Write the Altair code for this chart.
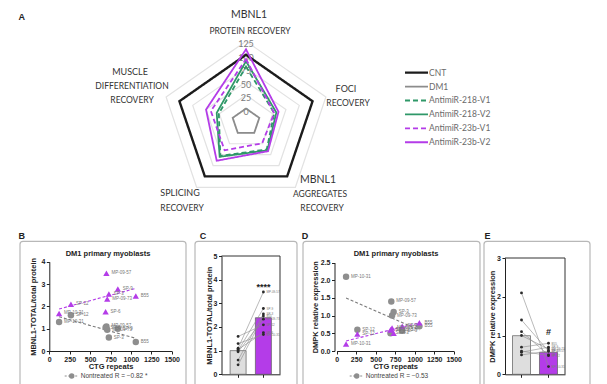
import altair as alt
import pandas as pd

W, H = 584, 376

# ---------------- Panel A: radar chart data ----------------
radar_axes = ["MBNL1 protein recovery", "Foci recovery", "MBNL1 aggregates recovery",
              "Splicing recovery", "Muscle differentiation recovery"]
series = ["CNT", "DM1", "AntimiR-218-V1", "AntimiR-218-V2", "AntimiR-23b-V1", "AntimiR-23b-V2"]
cnt = [100, 100, 100, 100, 100]
dm1 = [0, 0, 0, 0, 0]
antimir_218_v1 = [78, 28, 38, 53, 26]
antimir_218_v2 = [88, 32, 40, 55, 30]
antimir_23b_v1 = [92, 28, 24, 40, 41]
antimir_23b_v2 = [110, 36, 42, 64, 50]
radar_rings = [0, 25, 50, 75, 100, 125]
radar_min = -25

# ---------------- Panels B-E data ----------------
patients = ["MP-10-31", "SP-12", "MP-09-57", "SP-6", "MP-09-73", "SP-9", "SP-3", "B55"]
ctg_repeats = [120, 265, 700, 690, 710, 840, 730, 1060]
mbnl1_nontreated = [1.30, 1.60, 1.10, 1.05, 0.95, 1.00, 0.60, 0.40]
mbnl1_treated = [1.68, 2.09, 3.48, 1.76, 2.33, 2.78, 2.55, 2.46]
dmpk_nontreated = [2.10, 0.60, 1.40, 0.50, 1.00, 0.57, 1.10, 0.70]
dmpk_treated = [0.20, 0.48, 0.60, 0.60, 0.65, 0.70, 0.50, 0.80]
conditions = ["Nontreated", "Treated"]
ctg_ticks = [0, 250, 500, 750, 1000, 1250, 1500]

# ---------------- styles ----------------
series_colors = ["#1c1c1c", "#8c8c8c", "#2f9868", "#2f9868", "#b43ce8", "#b43ce8"]
series_dash = [[1, 0], [1, 0], [5, 3], [1, 0], [5, 3], [1, 0]]
MAG = "#b43ce8"
GREY_PT = "#8e8e8e"


def note(txt, x, y, size, color="#333333", font="Lato", weight="normal", align="center"):
    return alt.Chart(pd.DataFrame({"t": [txt]})).mark_text(
        font=font, fontSize=size, color=color, fontWeight=weight, align=align, baseline="middle"
    ).encode(x=alt.value(x), y=alt.value(y), text="t:N")


def frame(x0, x1, y0):
    return alt.Chart(pd.DataFrame({"t": [0]})).mark_rect(
        fillOpacity=0, stroke="#b8b8b8", strokeWidth=1.2, cornerRadius=3
    ).encode(x=alt.value(x0), x2=alt.value(x1), y=alt.value(y0), y2=alt.value(H + 40))


# ---------------- radar ----------------
radar_rows = []
for s, vals in zip(series, [cnt, dm1, antimir_218_v1, antimir_218_v2, antimir_23b_v1, antimir_23b_v2]):
    for i, (a, v) in enumerate(zip(radar_axes, vals)):
        radar_rows.append({"series": s, "axis": a, "idx": i, "value": v})
radar_df = pd.DataFrame(radar_rows)
ring_df = pd.DataFrame([{"ring": r, "idx": i, "value": r} for r in radar_rings for i in range(5)])
tick_df = pd.DataFrame({"value": radar_rings, "idx": [0] * len(radar_rings),
                        "label": [str(r) for r in radar_rings]})


def polar(ch):
    return ch.transform_calculate(r=f"datum.value - ({radar_min})").transform_calculate(
        px="datum.r * sin(datum.idx * 2 * PI / 5)",
        py="datum.r * cos(datum.idx * 2 * PI / 5)")


RX = alt.X("px:Q", scale=alt.Scale(domain=[-150, 150], range=[154, 322], nice=False, zero=False), axis=None)
RY = alt.Y("py:Q", scale=alt.Scale(domain=[-150, 150], range=[194.7, 33.3], nice=False, zero=False), axis=None)
COLOR = alt.Color("series:N", scale=alt.Scale(domain=series, range=series_colors), legend=None)
DASH = alt.StrokeDash("series:N", scale=alt.Scale(domain=series, range=series_dash), legend=None)
SW = alt.when(alt.datum.series == "CNT").then(alt.value(2.4)).otherwise(alt.value(1.8))

grid = polar(alt.Chart(ring_df)).mark_line(interpolate="linear-closed", color="#e2e2e2", strokeWidth=1.2).encode(
    x=RX, y=RY, detail="ring:N", order="idx:Q")
rticks = polar(alt.Chart(tick_df)).mark_text(font="Lato", fontSize=9, color="#7a7a7a", dy=3).encode(
    x=RX, y=RY, text="label:N")
rlines = polar(alt.Chart(radar_df)).mark_line(interpolate="linear-closed").encode(
    x=RX, y=RY, detail="series:N", order="idx:Q", color=COLOR, strokeDash=DASH, strokeWidth=SW)
radar = alt.layer(grid, rticks, rlines)

leg_df = pd.DataFrame({"series": series})
LY = alt.Y("series:N", scale=alt.Scale(domain=series, range=[57.7, 141.2], padding=0), axis=None)
leg_rule = alt.Chart(leg_df).mark_rule().encode(
    x=alt.value(397), x2=alt.value(420), y=LY, color=COLOR, strokeDash=DASH, strokeWidth=SW)
leg_text = alt.Chart(leg_df).mark_text(align="left", font="Lato", fontSize=8.5, color="#6b6b6b").encode(
    x=alt.value(421), y=LY, text="series:N")
legend = alt.layer(leg_rule, leg_text)

radar_labels = [
    note("MBNL1", 241, 7, 10.5), note("PROTEIN RECOVERY", 242, 23, 8.5),
    note("MUSCLE", 122, 64, 9), note("DIFFERENTIATION", 124, 78, 8.5), note("RECOVERY", 124, 92, 8.5),
    note("FOCI", 338, 81, 9), note("RECOVERY", 340, 95, 8.5),
    note("MBNL1", 310, 172, 10.5), note("AGGREGATES", 312, 186, 8.5), note("RECOVERY", 314, 200, 8.5),
    note("SPLICING", 172, 185, 9), note("RECOVERY", 174, 200, 8.5),
]


# ---------------- scatter panels ----------------
def scatter_panel(nt_vals, tr_vals, y_dom, y_ticks, y_fmt, x_rng, y_rng, y_axis_x, y_title, title_x):
    df = pd.DataFrame({"patient": patients, "ctg": ctg_repeats, "nt": nt_vals, "tr": tr_vals})
    xe = alt.X("ctg:Q", scale=alt.Scale(domain=[0, 1500], range=x_rng, nice=False, zero=False),
               axis=alt.Axis(orient="bottom", offset=y_rng[0] - H, values=ctg_ticks, format="d",
                             title="CTG repeats", titleY=15, titleBaseline="middle",
                             labelFlush=False, labelOverlap=False))

    def ye(f):
        return alt.Y(f"{f}:Q", scale=alt.Scale(domain=y_dom, range=y_rng, nice=False, zero=False),
                     axis=alt.Axis(orient="left", offset=-y_axis_x, values=y_ticks, format=y_fmt, title=y_title,
                                   titleX=title_x, titleBaseline="middle", labelOverlap=False))

    base = alt.Chart(df)
    reg_nt = base.transform_regression("ctg", "nt").mark_line(color="#7a7a7a", strokeDash=[3, 2], strokeWidth=1.1).encode(
        x=xe, y=ye("nt"))
    reg_tr = base.transform_regression("ctg", "tr").mark_line(color=MAG, strokeDash=[3, 2], strokeWidth=1.1).encode(
        x=xe, y=ye("tr"))
    p_nt = base.mark_point(shape="circle", filled=True, size=42, color=GREY_PT, opacity=1).encode(x=xe, y=ye("nt"))
    p_tr = base.mark_point(shape="triangle-up", filled=True, size=40, color=MAG, opacity=1).encode(x=xe, y=ye("tr"))
    l_nt = base.mark_text(align="left", dx=5, fontSize=4.5, color="#777777", font="Liberation Sans").encode(
        x=xe, y=ye("nt"), text="patient:N")
    l_tr = base.mark_text(align="left", dx=5, fontSize=4.5, color="#777777", font="Liberation Sans").encode(
        x=xe, y=ye("tr"), text="patient:N")
    return alt.layer(reg_nt, reg_tr, p_nt, p_tr, l_nt, l_tr)


# ---------------- bar panels ----------------
def bar_panel(nt_vals, tr_vals, y_dom, y_ticks, x_rng, pad_in, pad_out, y_rng, y_title, title_x,
              sig_text, sig_y, box_right):
    rows = []
    for p, a, b in zip(patients, nt_vals, tr_vals):
        rows.append({"patient": p, "cond": conditions[0], "value": a})
        rows.append({"patient": p, "cond": conditions[1], "value": b})
    df = pd.DataFrame(rows)
    xe = alt.X("cond:N", sort=conditions,
               scale=alt.Scale(domain=conditions, range=x_rng, paddingInner=pad_in, paddingOuter=pad_out),
               axis=alt.Axis(orient="bottom", offset=y_rng[0] - H, labels=False, title=None))

    def ye(f):
        return alt.Y(f, scale=alt.Scale(domain=y_dom, range=y_rng, nice=False),
                     axis=alt.Axis(orient="left", offset=-x_rng[0], values=y_ticks, title=y_title,
                                   titleX=title_x, titleBaseline="middle", labelOverlap=False))

    base = alt.Chart(df)
    bars = base.mark_bar(stroke="#5a5a5a", strokeWidth=0.7).encode(
        x=xe, y=ye("mean(value):Q"),
        color=alt.when(alt.datum.cond == "Treated").then(alt.value(MAG)).otherwise(alt.value("#dedede")))
    links = base.mark_line(color="#8c8c8c", strokeWidth=0.6).encode(x=xe, y=ye("value:Q"), detail="patient:N")
    dots = base.mark_circle(size=8, color="#2a2a2a", opacity=1).encode(x=xe, y=ye("value:Q"))
    labs = base.transform_filter(alt.datum.cond == "Treated").mark_text(
        align="left", dx=3, fontSize=3, color="#777777", font="Liberation Sans").encode(
        x=xe, y=ye("value:Q"), text="patient:N")
    sig = alt.Chart(pd.DataFrame({"cond": ["Treated"], "label": [sig_text], "y": [sig_y]})).mark_text(
        font="Liberation Sans", fontSize=9, fontWeight="bold", color="#222222").encode(
        x=xe, y=ye("y:Q"), text="label:N")
    one = pd.DataFrame({"t": [0]})
    top = alt.Chart(one).mark_rule(color="#333333", strokeWidth=1).encode(
        x=alt.value(x_rng[0]), x2=alt.value(box_right), y=alt.value(y_rng[1]))
    right = alt.Chart(one).mark_rule(color="#333333", strokeWidth=1).encode(
        x=alt.value(box_right), y=alt.value(y_rng[1]), y2=alt.value(y_rng[0]))
    return alt.layer(bars, links, dots, labs, sig, top, right)


panel_b = scatter_panel(mbnl1_nontreated, mbnl1_treated, [0, 4], [0, 1, 2, 3, 4], "d",
                        [41.3, 163.7], [343, 253.7], 41.3, "MBNL1-TOTAL/total protein", -16)
panel_d = scatter_panel(dmpk_nontreated, dmpk_treated, [0, 2.5], [0, 0.5, 1, 1.5, 2, 2.5], ".1f",
                        [328.7, 445.7], [343, 254.5], 326.5, "DMPK relative expression", -19)
panel_c = bar_panel(mbnl1_nontreated, mbnl1_treated, [0, 5], [0, 1, 2, 3, 4, 5],
                    [213.5, 272], 0.368, 0.34, [366.3, 248], "MBNL1-TOTAL/total protein", -12,
                    "****", 3.7, 272)
panel_e = bar_panel(dmpk_nontreated, dmpk_treated, [0, 3], [0, 1, 2, 3],
                    [497, 557], 0.333, 0.278, [366.3, 250], "DMPK relative expression", -13,
                    "#", 1.1, 557)


def nt_legend(x, y, txt):
    one = pd.DataFrame({"t": [0]})
    seg = alt.Chart(one).mark_rule(color=GREY_PT, strokeWidth=1, strokeDash=[2, 1.5]).encode(
        x=alt.value(x - 7), x2=alt.value(x + 7), y=alt.value(y))
    dot = alt.Chart(one).mark_point(shape="circle", filled=True, size=30, color=GREY_PT, opacity=1).encode(
        x=alt.value(x), y=alt.value(y))
    return [seg, dot, note(txt, x + 9, y, 6.5, color="#444444", font="Liberation Sans", align="left")]


annotations = [
    note("A", 13.7, 8.7, 9, color="#222222", font="Liberation Sans", weight="bold"),
    note("B", 13.7, 228, 9, color="#222222", font="Liberation Sans", weight="bold"),
    note("C", 195, 228, 9, color="#222222", font="Liberation Sans", weight="bold"),
    note("D", 297, 228, 9, color="#222222", font="Liberation Sans", weight="bold"),
    note("E", 479.5, 228, 9, color="#222222", font="Liberation Sans", weight="bold"),
    frame(12, 178, 233.3), frame(187, 289, 233.3), frame(295, 472, 233.3), frame(476, 582, 233.3),
    note("DM1 primary myoblasts", 100, 246, 7.5, color="#222222", font="Liberation Sans", weight="bold"),
    note("DM1 primary myoblasts", 388, 246, 7.5, color="#222222", font="Liberation Sans", weight="bold"),
] + nt_legend(63.7, 368, "Nontreated R = \u22120.82 *") + nt_legend(348.7, 368, "Nontreated R = \u22120.53")

chart = alt.layer(
    radar, legend, panel_b, panel_c, panel_d, panel_e, *radar_labels, *annotations
).resolve_scale(x="independent", y="independent").properties(
    width=W, height=H, autosize=alt.AutoSizeParams(type="none"), padding=0
).configure_view(stroke=None).configure_axis(
    labelFont="Liberation Sans", labelFontSize=7, labelFontWeight="bold", labelColor="#222222",
    titleFont="Liberation Sans", titleFontSize=7.5, titleFontWeight="bold", titleColor="#222222",
    domainColor="#222222", tickColor="#222222", tickSize=3, labelPadding=1.5, grid=False, domainWidth=1
)

chart.save("out.html", embed_options={"renderer": "svg", "actions": False})
